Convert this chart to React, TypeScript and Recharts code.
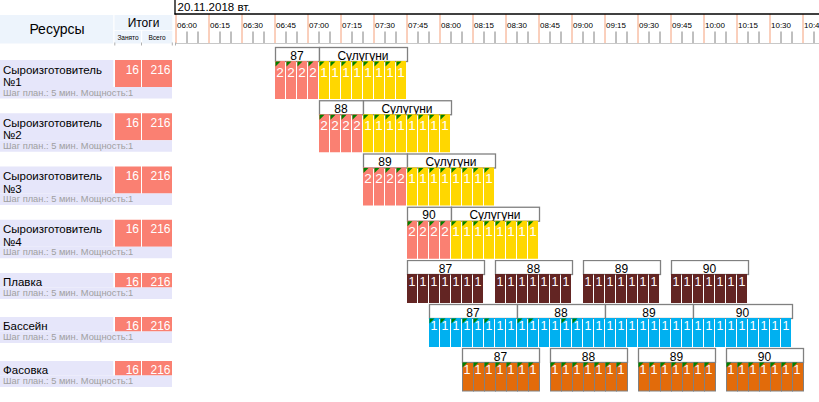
import React from 'react';
import { BarChart, Bar, XAxis, YAxis } from 'recharts';

// ---------- data ----------
const dateLabel = '20.11.2018 вт.';
const headerResources = 'Ресурсы';
const headerTotals = 'Итоги';
const headerBusy = 'Занято';
const headerAll = 'Всего';
const stepNote = 'Шаг план.: 5 мин. Мощность:1';

// minutes after 06:00
const tickLabels = ['06:00', '06:15', '06:30', '06:45', '07:00', '07:15', '07:30', '07:45', '08:00', '08:15',
  '08:30', '08:45', '09:00', '09:15', '09:30', '09:45', '10:00', '10:15', '10:30', '10:45'];

const cheeseMakers = ['Сыроизготовитель №1', 'Сыроизготовитель №2', 'Сыроизготовитель №3', 'Сыроизготовитель №4'];
const lineResources = ['Плавка', 'Бассейн', 'Фасовка'];
const busyTotals = [16, 16, 16, 16, 16, 16, 16];
const allTotals = [216, 216, 216, 216, 216, 216, 216];

const batchLabels = ['87', '88', '89', '90'];
const cheeseName = 'Сулугуни';
const prepStart = [45, 65, 85, 105];
const prepDur = [20, 20, 20, 20];
const prepLoad = 2;
const cookDur = [40, 40, 40, 40];
const cookLoad = 1;

const meltStart = [105, 145, 185, 225];
const meltDur = [35, 35, 35, 35];
const poolStart = [115, 155, 195, 235];
const poolDur = [40, 40, 40, 45];
const poolMarks = [[0, 1, 2, 3, 4, 5], [0, 1, 4, 5], [], []];
const packStart = [130, 170, 210, 250];
const packDur = [35, 35, 35, 35];
const lineLoad = 1;

// ---------- styles ----------
const FONT = '"Liberation Sans", Arial, sans-serif';
const LAV = '#e6e6fa';
const SALMON = '#fa8072';
const HEAD_BG = '#edf4fc';
const KIND = {
  prep: { fill: '#fa8072', border: false },
  cook: { fill: '#ffd700', border: false },
  melt: { fill: '#632523', border: false },
  pool: { fill: '#00b0f0', border: false },
  pack: { fill: '#e26b0a', border: true },
} as Record<string, { fill: string; border: boolean }>;

const STEP = 5;
const DOMAIN_MAX = 292.27;
const minorTicks: number[] = [];
for (let m = 0; m <= 290; m += STEP) minorTicks.push(m);

type Seg = { start: number; dur: number; label: string; kind: string; load: number; marks: number[] };
type Row = { name: string; busy: number; all: number; segs: Seg[]; [k: string]: any };

function allMarks(dur: number) {
  const r: number[] = [];
  for (let i = 0; i < Math.round(dur / STEP); i++) r.push(i);
  return r;
}

function buildRow(name: string, idx: number, segs: Seg[]): Row {
  const row: Row = { name, busy: busyTotals[idx], all: allTotals[idx], segs };
  let end = 0;
  segs.forEach((s, i) => {
    row['g' + i] = s.start - end;
    row['d' + i] = s.dur;
    end = s.start + s.dur;
  });
  return row;
}

const topRows: Row[] = cheeseMakers.map((name, i) =>
  buildRow(name, i, [
    { start: prepStart[i], dur: prepDur[i], label: batchLabels[i], kind: 'prep', load: prepLoad, marks: allMarks(prepDur[i]) },
    { start: prepStart[i] + prepDur[i], dur: cookDur[i], label: cheeseName, kind: 'cook', load: cookLoad, marks: allMarks(cookDur[i]) },
  ])
);

const lineStarts = [meltStart, poolStart, packStart];
const lineDurs = [meltDur, poolDur, packDur];
const lineKinds = ['melt', 'pool', 'pack'];
const bottomRows: Row[] = lineResources.map((name, r) =>
  buildRow(name, 4 + r,
    batchLabels.map((b, i) => ({
      start: lineStarts[r][i],
      dur: lineDurs[r][i],
      label: b,
      kind: lineKinds[r],
      load: lineLoad,
      marks: r === 0 ? [] : r === 1 ? poolMarks[i] : allMarks(lineDurs[r][i]),
    }))
  )
);

// ---------- custom renderers ----------
function makeSegShape(i: number, fontSize: number) {
  return (props: any) => {
    const { x, y, width, height, payload } = props;
    const seg: Seg | undefined = payload && payload.segs ? payload.segs[i] : undefined;
    if (!seg || !(width > 0)) return <g />;
    const st = KIND[seg.kind];
    const n = Math.round(seg.dur / STEP);
    const cw = width / n;
    const boxH = 14;
    const cTop = y + boxH;
    const cH = height - boxH - 1;
    const cells = [];
    for (let k = 0; k < n; k++) {
      const cx = x + k * cw;
      cells.push(
        <g key={k}>
          {st.border ? (
            <rect x={cx + 0.5} y={cTop + 0.5} width={cw} height={cH - 0.5} fill={st.fill} stroke="#808080" strokeWidth={1} />
          ) : (
            <rect x={cx} y={cTop} width={cw - 1} height={cH} fill={st.fill} />
          )}
          {seg.marks.includes(k) && (
            <polygon points={`${cx + 0.5},${cTop + 0.5} ${cx + 5.5},${cTop + 0.5} ${cx + 0.5},${cTop + 5.5}`} fill="#008000" />
          )}
          <text x={cx + cw / 2 - 0.5} y={cTop + cH * 0.4 + 0.3} textAnchor="middle" fontSize={fontSize} fill="#fff" fontFamily={FONT}>
            {seg.load}
          </text>
        </g>
      );
    }
    return (
      <g>
        <rect x={x + 0.5} y={y + 0.5} width={width} height={boxH} fill="#fff" stroke="#808080" strokeWidth={1.3} />
        <text x={x + width / 2} y={y + 12.5} textAnchor="middle" fontSize={12} fill="#000" fontFamily={FONT}>
          {seg.label}
        </text>
        {cells}
      </g>
    );
  };
}

function makeResourceTick(band: number, rows: Row[]) {
  return (props: any) => {
    const { y, payload } = props;
    const row = rows.find((r) => r.name === payload.value);
    if (!row) return <g />;
    const top = y - band / 2;
    const parts = row.name.split(' №');
    const lines = parts.length > 1 ? [parts[0], '№' + parts[1]] : [row.name];
    const two = lines.length > 1;
    const nTop = top + 13;
    const nameH = two ? 27 : 14.5;
    const subTop = nTop + nameH;
    const base1 = two ? nTop + 13.5 : nTop + 12.5;
    return (
      <g fontFamily={FONT}>
        <rect x={0} y={nTop} width={113.3} height={nameH} fill={LAV} />
        <rect x={115} y={nTop} width={26} height={nameH} fill={SALMON} />
        <rect x={142} y={nTop} width={30} height={nameH} fill={SALMON} />
        <text x={3} y={base1} fontSize={11.5} fill="#000">{lines[0]}</text>
        {two && <text x={3} y={nTop + 26} fontSize={11.5} fill="#000">{lines[1]}</text>}
        <text x={139} y={base1} fontSize={12} fill="#fff" textAnchor="end">{row.busy}</text>
        <text x={170.5} y={base1} fontSize={12} fill="#fff" textAnchor="end">{row.all}</text>
        <rect x={0} y={subTop} width={172} height={11.5} fill={LAV} />
        <text x={3} y={subTop + 8.6} fontSize={9.3} fill="#a0a0a0">{stepNote}</text>
      </g>
    );
  };
}

const TimeTick = (props: any) => {
  const { x, y, payload } = props;
  const m = payload.value as number;
  const major = m % 15 === 0;
  const bottom = y - 3.5;
  if (major) {
    return (
      <g>
        <line x1={x} x2={x} y1={y - 33} y2={bottom} stroke="#f5a07a" strokeWidth={1} />
        <text x={x + 1} y={y - 19.5} fontSize={8} fill="#000" fontFamily={FONT}>{tickLabels[m / 15]}</text>
      </g>
    );
  }
  return <line x1={x} x2={x} y1={y - 15.5} y2={bottom} stroke="#808080" strokeWidth={1} />;
};

function renderBars(count: number, fontSize: number) {
  const out = [];
  for (let i = 0; i < count; i++) {
    out.push(<Bar key={'g' + i} dataKey={'g' + i} stackId="a" fill="transparent" isAnimationActive={false} />);
    out.push(<Bar key={'d' + i} dataKey={'d' + i} stackId="a" shape={makeSegShape(i, fontSize)} isAnimationActive={false} />);
  }
  return out;
}

export default function App() {
  const band1 = 213 / 4;
  const band2 = 44;
  return (
    <div style={{ position: 'absolute', left: 0, top: 0, width: 819, height: 402, background: '#fff', overflow: 'hidden', fontFamily: FONT }}>
      <div style={{ position: 'absolute', left: 0, top: 0 }}>
        <BarChart width={819} height={260} data={topRows} layout="vertical" margin={{ top: 0, right: 0, bottom: 0, left: 0 }} barCategoryGap={0} barGap={0}>
          <XAxis type="number" orientation="top" height={47} domain={[0, DOMAIN_MAX]} allowDataOverflow ticks={minorTicks} interval={0}
            tick={TimeTick} tickLine={false} axisLine={false} tickSize={0} tickMargin={0} />
          <YAxis type="category" dataKey="name" width={176} tick={makeResourceTick(band1, topRows)} tickLine={false} axisLine={false} tickSize={0} tickMargin={0} interval={0} />
          {renderBars(2, 13.5)}
        </BarChart>
      </div>
      <div style={{ position: 'absolute', left: 0, top: 259.5 }}>
        <BarChart width={819} height={142} data={bottomRows} layout="vertical" margin={{ top: 0, right: 0, bottom: 10, left: 0 }} barCategoryGap={0} barGap={0}>
          <XAxis type="number" hide domain={[0, DOMAIN_MAX]} allowDataOverflow />
          <YAxis type="category" dataKey="name" width={176} tick={makeResourceTick(band2, bottomRows)} tickLine={false} axisLine={false} tickSize={0} tickMargin={0} interval={0} />
          {renderBars(4, 12.5)}
        </BarChart>
      </div>
      <svg width={819} height={50} style={{ position: 'absolute', left: 0, top: 0, pointerEvents: 'none' }} fontFamily={FONT}>
        <rect x={0} y={15} width={113.3} height={28.5} fill={HEAD_BG} />
        <rect x={114.5} y={15} width={57.8} height={15} fill={HEAD_BG} />
        <rect x={114.5} y={30.7} width={26.5} height={12.8} fill={HEAD_BG} />
        <rect x={142.2} y={30.7} width={30.1} height={12.8} fill={HEAD_BG} />
        <text x={57} y={33.5} fontSize={14} textAnchor="middle" fill="#000">{headerResources}</text>
        <text x={143.5} y={26.5} fontSize={12} textAnchor="middle" fill="#000">{headerTotals}</text>
        <text x={128} y={40} fontSize={6.5} textAnchor="middle" fill="#000">{headerBusy}</text>
        <text x={157} y={40} fontSize={6.5} textAnchor="middle" fill="#000">{headerAll}</text>
        <text x={177.5} y={10.8} fontSize={11.5} fill="#000">{dateLabel}</text>
        <line x1={175} x2={175} y1={0} y2={14.5} stroke="#000" strokeWidth={1.3} />
        <line x1={174.5} x2={819} y1={14} y2={14} stroke="#000" strokeWidth={1.5} />
        <line x1={176} x2={819} y1={43.5} y2={43.5} stroke="#c8c8c8" strokeWidth={1} />
        {[114.8, 141.5, 172.3, 175.5].map((xx) => (
          <line key={xx} x1={xx} x2={xx} y1={42.5} y2={45.5} stroke="#b0b0b0" strokeWidth={1} />
        ))}
      </svg>
    </div>
  );
}
